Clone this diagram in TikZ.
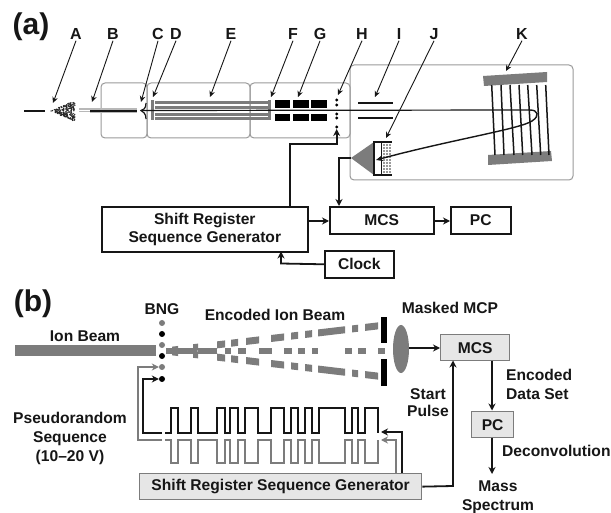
\documentclass[tikz,border=0pt]{standalone}
\usepackage{fontspec}
\setmainfont{Liberation Sans}
\usetikzlibrary{arrows.meta}
\definecolor{bx}{HTML}{9A9A9A}
\definecolor{gr}{HTML}{7C7C7C}
\definecolor{ink}{HTML}{161616}
\definecolor{pane}{HTML}{E6E6E6}
\tikzset{
 lab/.style={font=\bfseries\fontsize{16}{18}\selectfont,text=ink,inner sep=0pt},
 big/.style={font=\bfseries\fontsize{30}{31}\selectfont,text=ink,inner sep=0pt},
 captxt/.style={font=\bfseries\fontsize{15.6}{19}\selectfont,text=ink,inner sep=0pt,align=center},
 stage/.style={draw=bx,line width=1pt,rounded corners=4pt},
 thin arrow/.style={ink,line width=0.9pt,-{Stealth[length=6pt,width=5.5pt]}},
 conn/.style={ink,line width=1.8pt,-{Stealth[length=7pt,width=7pt]}},
 gconn/.style={gr,line width=1.8pt,-{Stealth[length=7pt,width=7pt]}},
 blackbox/.style={draw=ink,line width=1.6pt,fill=white,inner sep=0pt,anchor=north west},
 graybox/.style={draw=gr,line width=1.3pt,fill=pane,inner sep=0pt,anchor=north west},
 dotk/.style={circle,fill=black,inner sep=0pt,minimum size=6pt},
 dotg/.style={circle,fill=gr,inner sep=0pt,minimum size=6pt},
}
\begin{document}
\begin{tikzpicture}[x=1pt,y=-1pt]
\useasboundingbox (0,0) rectangle (611,513);
\fill[white] (0,0) rectangle (611,513);
% ---------- (a) ----------
\node[big] (pa) at (31,27) {(a)};
\foreach \n/\t/\x in {lA/A/76,lB/B/113,lC/C/158,lD/D/176,lE/E/231,lF/F/293,lG/G/320,lH/H/362,lI/I/399,lJ/J/434,lK/K/522}
  \node[lab] (\n) at (\x,34) {\t};
% stage outlines
\node[stage,minimum width=46pt,minimum height=55pt,inner sep=0pt] (s1) at (124,110.5) {};
\node[stage,minimum width=103pt,minimum height=55pt,inner sep=0pt] (s2) at (198.5,110.5) {};
\node[stage,minimum width=100pt,minimum height=55pt,inner sep=0pt] (s3) at (300,110.5) {};
\node[stage,minimum width=223pt,minimum height=115pt,inner sep=0pt] (s4) at (461.5,122.5) {};
% source
\draw[ink,line width=1.1pt] (24,111) -- (45,111);
\pgfmathsetseed{7}
\foreach \i in {1,...,200}{
  \pgfmathsetmacro{\u}{rnd}
  \pgfmathsetmacro{\v}{rnd*2-1}
  \fill[black!85] ({51+24*sqrt(\u)},{111+\v*10.5*sqrt(\u)}) circle (0.75pt);
}
% capillary
\fill[bx!70] (79,108.5) rectangle (137,113.5);
\draw[white,line width=0.7pt] (79,110) -- (90,110) (79,112) -- (90,112);
\draw[ink,line width=1.8pt] (90,111) -- (137,111);
% C funnel
\draw[ink,line width=1.2pt] (146,103) .. controls (146,109) and (143,110) .. (141,110.5) .. controls (143,112) and (146,113) .. (146,119);
% D, E, F
\fill[gr] (151,100) rectangle (154,120);
\fill[gr] (268,100) rectangle (271,120);
\foreach \y in {101,106,113,117}
  \fill[gr] (155,\y) rectangle (268,\y+3);
% G blocks
\foreach \x/\w in {275/15,293/16,311/16}{
  \fill[black] (\x,100) rectangle (\x+\w,108);
  \fill[black] (\x,114) rectangle (\x+\w,121);
}
% H deflector
\foreach \y in {100,105,114,118,127}
  \fill[black] (336.7,\y) circle (1.6pt);
% ion path
\coordinate (turn) at (530,110);
\draw[ink,line width=1.2pt] (141,110.5) -- (turn);
% I plates
\draw[ink,line width=2.2pt] (358,103) -- (393,103);
\draw[ink,line width=2.2pt] (358,118) -- (393,118);
% K reflectron
\fill[gr] (483,76) -- (547,72) -- (547,82) -- (484,86) -- cycle;
\fill[gr] (488,155) -- (551,151) -- (552,161) -- (488,165) -- cycle;
\foreach \a/\b in {491.7/495,501/504,510/514,519/522.7,527.7/532,536.7/540.7,545.7/549}
  \draw[ink,line width=1.5pt] (\a,85) -- (\b,155);
% detector
\fill[gr] (351,158) -- (374,142) -- (374,175) -- cycle;
\draw[ink,line width=1.2pt,fill=white] (374,142) rectangle (382,175);
\fill[white] (382,142.5) rectangle (392,174.5);
\foreach \y in {145,148,...,172}
  \draw[bx,line width=1.5pt,dash pattern=on 1.5pt off 1.5pt] (383,\y) -- (392,\y);
\draw[ink,line width=1.2pt] (374,142) -- (392,142) (374,175) -- (392,175);
\coordinate (det) at (351,158);
\coordinate (detin) at (376,160);
\draw[ink,line width=1.4pt,-{Stealth[length=7pt,width=6pt]}] (turn) .. controls (538,110) and (540,116) .. (532,121) .. controls (520,129) and (450,140) .. (detin);
% label arrows
\foreach \n/\x/\y in {lA/53/103,lB/92/102,lC/141/102,lD/153/97,lE/210/97,lF/271/97,lG/298/97,lH/338/95,lI/375/97,lJ/386/138,lK/506/71}{
  \coordinate (t\n) at (\x,\y);
  \draw[thin arrow] ([yshift=-1pt]\n.south) -- (t\n);
}
% control boxes
\node[blackbox,minimum width=206pt,minimum height=45pt,captxt] (sr) at (101,206) {Shift Register\\[-1.5pt]Sequence Generator};
\node[blackbox,minimum width=104pt,minimum height=27pt,captxt] (mcsa) at (329,206) {MCS};
\node[blackbox,minimum width=60pt,minimum height=27pt,captxt] (pca) at (450,206) {PC};
\node[blackbox,minimum width=69pt,minimum height=27pt,captxt] (clk) at (324,250) {Clock};
\coordinate (hin) at (336.7,129);
\draw[conn] (290,206) -- (290,144) -- (336.7,144) -- (hin);
\draw[conn] (det) -- (339,158) -- (339,206);
\draw[conn] (sr.east |- 0,221) -- (329,221);
\draw[conn] (mcsa.east |- 0,221) -- (pca.west |- 0,221);
\draw[conn] (clk.west) -- (281,263.5) -- (281,251.5);
% ---------- (b) ----------
\node[big] (pb) at (33,304) {(b)};
\node[captxt] (bng) at (162,309) {BNG};
\node[captxt] (ib) at (85,336) {Ion Beam};
\node[captxt] (eib) at (275,315) {Encoded Ion Beam};
\node[captxt] (mm) at (450,308) {Masked MCP};
\fill[gr] (15,345) rectangle (156,356);
\foreach \y/\s in {323/dotg,334/dotk,345/dotg,356/dotk,367/dotg,379/dotk}
  \node[\s] (d\y) at (162,\y) {};
% encoded beam: centre
\foreach \a/\b in {166/172,178/193,198/217,225/231,238/246,259/272,284/292,298/305,312/318,345/352,358/366,378/385}
  \fill[gr] (\a,348) rectangle (\b,354);
% encoded beam: two arms
\foreach \a/\b in {172/178,193/198,217/225,231/238,246/259,271/284,291/298,305/312,318/345,352/358,365/378}{
  \fill[gr] (\a,{351-(\a-165)*0.118-3.5}) -- (\b,{351-(\b-165)*0.118-3.5}) -- (\b,{351-(\b-165)*0.118+3.5}) -- (\a,{351-(\a-165)*0.118+3.5}) -- cycle;
  \fill[gr] (\a,{351+(\a-165)*0.118-3.5}) -- (\b,{351+(\b-165)*0.118-3.5}) -- (\b,{351+(\b-165)*0.118+3.5}) -- (\a,{351+(\a-165)*0.118+3.5}) -- cycle;
}
% mask and MCP
\fill[black] (381,317) rectangle (387,343);
\fill[black] (381,359) rectangle (387,386);
\fill[gr] (401,349) ellipse [x radius=8, y radius=24];
\coordinate (mcp) at (409,348);
% waveforms
\draw[ink,line width=1.5pt] (165,433) -- (171,433) -- (171,408) -- (178,408) -- (178,433) -- (191,433) -- (191,408) -- (198,408) -- (198,433) -- (217,433) -- (217,408) -- (225,408) -- (225,433) -- (230,433) -- (230,408) -- (238,408) -- (238,433) -- (245,433) -- (245,408) -- (258,408) -- (258,433) -- (271,433) -- (271,408) -- (284,408) -- (284,433) -- (291,433) -- (291,408) -- (298,408) -- (298,433) -- (305,433) -- (305,408) -- (312,408) -- (312,433) -- (319,433) -- (319,408) -- (345,408) -- (345,433) -- (352,433) -- (352,408) -- (358,408) -- (358,433) -- (365,433) -- (365,408) -- (378,408) -- (378,433);
\draw[gr,line width=1.5pt] (165,440) -- (171,440) -- (171,463) -- (178,463) -- (178,440) -- (191,440) -- (191,463) -- (198,463) -- (198,440) -- (217,440) -- (217,463) -- (225,463) -- (225,440) -- (230,440) -- (230,463) -- (238,463) -- (238,440) -- (245,440) -- (245,463) -- (258,463) -- (258,440) -- (271,440) -- (271,463) -- (284,463) -- (284,440) -- (291,440) -- (291,463) -- (298,463) -- (298,440) -- (305,440) -- (305,463) -- (312,463) -- (312,440) -- (319,440) -- (319,463) -- (345,463) -- (345,440) -- (352,440) -- (352,463) -- (358,463) -- (358,440) -- (365,440) -- (365,463) -- (378,463) -- (378,440);
% boxes
\node[graybox,minimum width=69pt,minimum height=26pt,captxt] (mcsb) at (440,334) {MCS};
\node[graybox,minimum width=42pt,minimum height=26pt,captxt] (pcb) at (471,411) {PC};
\node[graybox,minimum width=282pt,minimum height=26pt,captxt] (srb) at (139,473) {Shift Register Sequence Generator};
\node[captxt] (pseq) at (70,438) {Pseudorandom\\Sequence\\(10–20 V)};
\node[captxt] (start) at (428,402.5) {Start\\[-2pt]Pulse};
\node[captxt,align=left,anchor=west] (eds) at (506,384.5) {Encoded\\Data Set};
\node[captxt,anchor=west] (dec) at (502,451) {Deconvolution};
\node[captxt] (ms) at (498,497) {Mass\\Spectrum};
% connectors (b)
\coordinate (wb) at (162,433);
\coordinate (wg) at (162,440);
\coordinate (we) at (381,432);
\coordinate (wh) at (381,440);
\draw[gconn] (wg) -- (138,440) -- (138,367) -- (d367.west);
\draw[conn] (wb) -- (143,433) -- (143,379) -- (d379.west);
\draw[gconn] (396,473) -- (396,440) -- (wh);
\draw[conn] (402,473) -- (402,432) -- (we);
\draw[conn] (mcp) -- (mcsb.west |- mcp);
\draw[conn] (srb.east) -- (453,486) -- (453,360.5);
\draw[conn] (492,360.5) -- (492,410.5);
\draw[conn] (492,437.5) -- (492,474);
\end{tikzpicture}
\end{document}
